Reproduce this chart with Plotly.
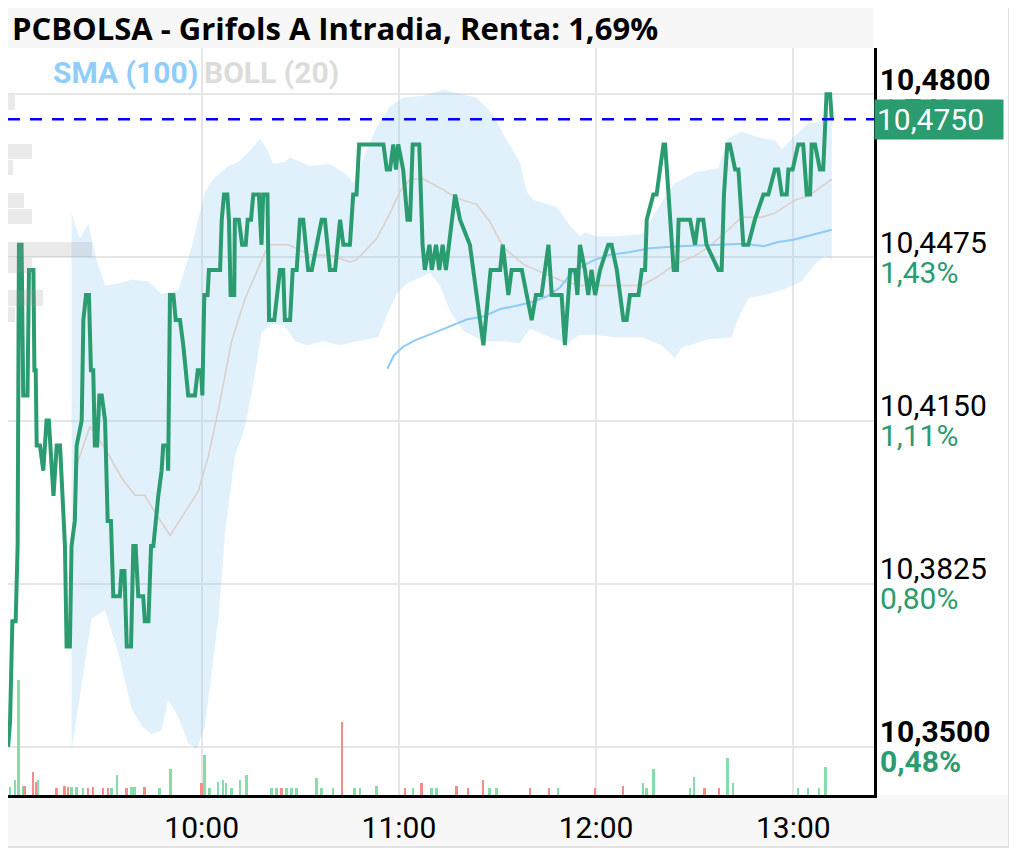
import math
import pandas as pd
import plotly.graph_objects as go

DAY = "2023-06-09"
PREV_CLOSE = 10.30

# ---------------- price (minutes after 09:00, price) ----------------
price_minutes = [
    1.1, 1.7, 2.4, 3.4, 4.0, 4.4, 5.2, 5.7, 7.0, 7.45,
    8.8, 9.1, 9.5, 9.8, 10.8, 11.8, 12.8, 13.5, 14.9, 15.9,
    16.9, 18.4, 18.9, 19.9, 20.4, 21.4, 21.95, 23.5, 24.0, 24.8,
    25.7, 26.3, 27.0, 27.5, 28.2, 28.85, 29.6, 30.6, 31.4, 32.4,
    33.1, 35.1, 35.6, 36.5, 37.2, 38.5, 39.2, 39.9, 40.7, 42.2,
    42.7, 43.8, 44.6, 45.3, 46.8, 47.8, 48.3, 49.6, 49.8, 50.35,
    51.4, 52.1, 53.4, 54.4, 55.9, 57.95, 58.8, 59.8, 60.2, 60.8,
    61.8, 62.2, 65.6, 66.1, 66.8, 67.8, 68.3, 68.8, 69.9, 70.1,
    71.3, 72.3, 73.4, 74.0, 75.0, 75.7, 77.4, 78.2, 78.7, 80.0,
    80.5, 82.1, 83.8, 84.8, 85.3, 86.9, 87.7, 88.9, 89.9, 90.9,
    92.4, 93.5, 96.5, 97.5, 99.0, 100.6, 102.1, 103.1, 105.1, 106.1,
    107.1, 107.9, 115.3, 116.3, 117.3, 118.3, 119.1, 119.8, 121.3, 122.6,
    123.4, 124.2, 126.2, 127.2, 127.9, 129.3, 130.0, 131.3, 132.3, 133.3,
    134.3, 137.1, 138.6, 141.6, 145.7, 147.2, 147.9, 150.8, 151.6, 153.3,
    154.3, 157.4, 160.4, 161.7, 163.4, 165.5, 166.5, 169.5, 170.5, 172.1,
    173.6, 174.3, 175.1, 176.6, 177.6, 178.6, 179.7, 181.2, 183.7, 184.7,
    186.3, 188.3, 189.3, 190.3, 192.9, 193.9, 194.9, 195.4, 197.4, 198.4,
    200.5, 201.0, 203.6, 204.6, 205.1, 208.6, 210.1, 211.1, 212.6, 213.6,
    217.2, 218.2, 218.9, 219.9, 220.7, 222.3, 223.3, 224.3, 224.8, 226.3,
    228.3, 230.9, 232.4, 234.4, 235.4, 236.5, 238.0, 238.5, 239.8, 241.5,
    243.0, 244.1, 245.1, 245.6, 246.6, 248.1, 249.1, 250.1, 251.2, 251.7,
]
price_values = [
    10.350, 10.355, 10.375, 10.375, 10.390, 10.450, 10.450, 10.420, 10.420, 10.445,
    10.445, 10.425, 10.425, 10.410, 10.410, 10.405, 10.415, 10.415, 10.400, 10.410,
    10.410, 10.390, 10.370, 10.370, 10.390, 10.395, 10.410, 10.415, 10.435, 10.440,
    10.440, 10.425, 10.425, 10.410, 10.410, 10.420, 10.420, 10.415, 10.395, 10.395,
    10.380, 10.380, 10.385, 10.385, 10.370, 10.370, 10.390, 10.390, 10.380, 10.380,
    10.375, 10.375, 10.390, 10.390, 10.400, 10.405, 10.410, 10.410, 10.405, 10.440,
    10.440, 10.435, 10.435, 10.430, 10.420, 10.420, 10.425, 10.425, 10.420, 10.440,
    10.440, 10.445, 10.445, 10.455, 10.460, 10.460, 10.455, 10.440, 10.440, 10.455,
    10.455, 10.450, 10.450, 10.455, 10.455, 10.460, 10.460, 10.450, 10.460, 10.460,
    10.435, 10.435, 10.445, 10.445, 10.435, 10.435, 10.445, 10.445, 10.455, 10.455,
    10.445, 10.445, 10.455, 10.455, 10.445, 10.445, 10.455, 10.450, 10.450, 10.460,
    10.460, 10.470, 10.470, 10.465, 10.465, 10.470, 10.465, 10.470, 10.465, 10.455,
    10.455, 10.470, 10.470, 10.450, 10.445, 10.450, 10.445, 10.450, 10.445, 10.450,
    10.445, 10.460, 10.455, 10.450, 10.430, 10.440, 10.445, 10.445, 10.450, 10.440,
    10.445, 10.445, 10.435, 10.440, 10.440, 10.450, 10.440, 10.440, 10.430, 10.445,
    10.445, 10.440, 10.450, 10.445, 10.440, 10.445, 10.440, 10.445, 10.450, 10.450,
    10.445, 10.435, 10.435, 10.440, 10.440, 10.445, 10.445, 10.455, 10.460, 10.460,
    10.470, 10.470, 10.445, 10.445, 10.455, 10.455, 10.450, 10.455, 10.455, 10.450,
    10.445, 10.445, 10.460, 10.470, 10.470, 10.465, 10.465, 10.455, 10.450, 10.450,
    10.455, 10.460, 10.460, 10.465, 10.465, 10.460, 10.460, 10.465, 10.465, 10.470,
    10.470, 10.460, 10.460, 10.470, 10.470, 10.465, 10.465, 10.480, 10.480, 10.475,
]

# ---------------- SMA(100) ----------------
sma_minutes = [116.5, 118.5, 121.3, 125.0, 130.5, 135.5, 140.6, 145.7, 150.8, 155.5,
               160.0, 165.0, 169.0, 172.0, 175.1, 179.5, 184.2, 190.0, 196.4, 205.0,
               216.7, 225.0, 231.0, 235.0, 240.0, 246.0, 251.7]
sma_values = [10.4253, 10.4280, 10.4297, 10.4310, 10.4324, 10.4337, 10.4351, 10.4357, 10.4372, 10.4378,
              10.4385, 10.4397, 10.4415, 10.4440, 10.4455, 10.4470, 10.4480, 10.4485, 10.4493, 10.4497,
              10.4500, 10.4502, 10.4497, 10.4505, 10.4510, 10.4520, 10.4530]

# ---------------- Bollinger (20) ----------------
boll_up_minutes = [20.4, 23.0, 25.5, 28.0, 30.6, 34.6, 38.7, 43.8, 47.8, 52.9,
                   56.9, 61.0, 63.5, 68.1, 71.1, 75.2, 77.7, 79.8, 81.8, 85.3,
                   86.9, 93.0, 99.0, 104.1, 106.1, 109.2, 113.2, 117.3, 121.3, 127.4,
                   133.5, 137.6, 143.7, 148.7, 152.8, 156.8, 158.9, 160.9, 168.0, 172.1,
                   175.1, 176.6, 179.7, 185.7, 193.9, 197.9, 202.0, 204.0, 210.1, 217.2,
                   220.2, 224.3, 230.4, 234.4, 236.5, 240.5, 244.6, 250.6, 251.7]
boll_up_values = [10.4563, 10.4512, 10.4542, 10.4470, 10.4419, 10.4423, 10.4431, 10.4427, 10.4402, 10.4410,
                  10.4495, 10.4606, 10.4631, 10.4657, 10.4665, 10.4691, 10.4712, 10.4691, 10.4661, 10.4665,
                  10.4674, 10.4657, 10.4661, 10.4640, 10.4623, 10.4674, 10.4734, 10.4776, 10.4793, 10.4797,
                  10.4809, 10.4803, 10.4793, 10.4759, 10.4708, 10.4665, 10.4606, 10.4589, 10.4576, 10.4538,
                  10.4517, 10.4525, 10.4517, 10.4517, 10.4521, 10.4563, 10.4606, 10.4623, 10.4644, 10.4653,
                  10.4712, 10.4725, 10.4712, 10.4708, 10.4691, 10.4717, 10.4742, 10.4746, 10.4746]
boll_low_minutes = [20.4, 23.5, 26.5, 30.6, 34.6, 38.7, 41.7, 44.8, 47.8, 49.8,
                    52.9, 55.9, 58.5, 61.0, 65.1, 67.1, 70.1, 73.2, 75.7, 78.2,
                    81.3, 85.3, 88.4, 92.0, 97.0, 102.1, 107.1, 113.7, 116.3, 119.3,
                    122.4, 129.5, 132.5, 135.5, 139.6, 145.7, 151.8, 156.8, 159.9, 166.0,
                    171.0, 175.1, 179.7, 185.7, 193.9, 199.9, 204.0, 206.0, 214.1, 221.2,
                    223.3, 226.3, 232.4, 236.5, 242.5, 246.6, 249.6, 251.7]
boll_low_values = [10.3491, 10.3627, 10.3755, 10.3772, 10.3687, 10.3576, 10.3542, 10.3525, 10.3533, 10.3593,
                   10.3559, 10.3508, 10.3495, 10.3542, 10.3755, 10.3925, 10.4078, 10.4138, 10.4223, 10.4325,
                   10.4342, 10.4338, 10.4308, 10.4300, 10.4308, 10.4300, 10.4308, 10.4316, 10.4359, 10.4402,
                   10.4423, 10.4444, 10.4419, 10.4368, 10.4329, 10.4308, 10.4308, 10.4304, 10.4333, 10.4316,
                   10.4304, 10.4321, 10.4321, 10.4316, 10.4316, 10.4300, 10.4274, 10.4295, 10.4312, 10.4316,
                   10.4355, 10.4393, 10.4402, 10.4410, 10.4427, 10.4461, 10.4478, 10.4470]
boll_mid_minutes = [21.95, 26.0, 30.6, 35.6, 39.7, 42.7, 45.8, 50.35, 54.9, 59.0,
                    62.0, 65.1, 69.1, 73.2, 77.2, 80.3, 86.4, 92.95, 99.0, 105.1,
                    107.1, 113.2, 117.3, 120.3, 123.4, 127.4, 133.5, 137.6, 143.7, 147.7,
                    151.8, 157.9, 163.9, 170.0, 175.1, 193.9, 198.9, 204.0, 210.1, 214.1,
                    220.2, 224.3, 230.4, 234.4, 240.5, 244.6, 251.7]
boll_mid_values = [10.4061, 10.4138, 10.4095, 10.4036, 10.4001, 10.4001, 10.3967, 10.3921, 10.3967, 10.4010,
                   10.4078, 10.4172, 10.4308, 10.4393, 10.4453, 10.4500, 10.4500, 10.4480, 10.4479, 10.4466,
                   10.4470, 10.4512, 10.4563, 10.4606, 10.4631, 10.4631, 10.4610, 10.4593, 10.4580, 10.4546,
                   10.4495, 10.4461, 10.4444, 10.4427, 10.4419, 10.4419, 10.4437, 10.4461, 10.4478, 10.4495,
                   10.4530, 10.4555, 10.4555, 10.4563, 10.4589, 10.4597, 10.4631]

# ---------------- volume ----------------
vol_minutes = [1.7, 3.2, 4.4, 5.7, 6.2, 8.8, 9.6, 10.3, 15.9, 18.4,
               19.4, 20.4, 22.0, 24.0, 25.5, 27.0, 30.1, 31.6, 32.6, 34.3,
               37.2, 38.7, 39.7, 42.7, 47.3, 50.6, 60.0, 61.0, 62.5, 65.1,
               66.6, 67.4, 69.1, 71.7, 73.7, 81.3, 82.8, 84.3, 85.9, 87.4,
               88.9, 95.0, 96.5, 100.0, 102.8, 106.6, 108.2, 113.2, 121.9, 124.4,
               126.9, 130.0, 131.5, 137.6, 141.1, 145.7, 147.7, 149.8, 159.9, 165.8,
               168.5, 179.7, 188.3, 194.4, 195.4, 197.6, 208.6, 209.8, 213.1, 217.4,
               220.0, 221.7, 241.5, 244.6, 247.9, 249.9]
vol_values = [2000, 3750, 28750, 2250, 2250, 5750, 3250, 3750, 1750, 2250,
              2000, 2000, 2000, 1750, 1750, 2000, 1750, 1750, 1750, 5000,
              1750, 2000, 2000, 2000, 1750, 6500, 3000, 10000, 1750, 3250,
              3750, 3000, 1750, 3750, 5000, 1750, 1750, 1750, 1750, 1750,
              1750, 4250, 1750, 1750, 18250, 1750, 1750, 2250, 1750, 1750,
              3000, 1750, 1750, 2250, 1750, 3750, 1750, 1750, 1750, 1750,
              1750, 1750, 2250, 3000, 1750, 6500, 1750, 4500, 1750, 1750,
              9250, 3000, 1750, 1750, 1750, 7000]
vol_side = ("g g g g r r r g r r r g g g r r r r g g r g g r g g r g g g "
            "g g g g g g g r g g g g g g r g g g r g r g g r r r g g r r "
            "g r r g g g g g r r g g g g g g").split()

# ---------------- volume-at-price profile ----------------
profile_price = [10.4784, 10.4686, 10.4654, 10.4589, 10.4556, 10.4491, 10.4459, 10.4394, 10.4361]
profile_volume = [700, 2400, 500, 1600, 2400, 8400, 2400, 3500, 700]

# ---------------- axis ticks ----------------
tick_values = [10.35, 10.3825, 10.415, 10.4475, 10.48]

# ---------------------------------------------------------------------
GREEN = "#2a9c70"
GRID = "#e6e6e6"
FONT = "Roboto"


def tm(mins):
    return pd.Timestamp(f"{DAY} 09:00") + pd.to_timedelta(mins, unit="min")


def num(v, d=4):
    return f"{v:.{d}f}".replace(".", ",")


def pct(v):
    p = math.floor((v / PREV_CLOSE - 1) * 10000 + 1e-6) / 100
    return num(p, 2) + "%"


last = price_values[-1]
price_text, pct_text = [], []
for i, v in enumerate(tick_values):
    bold = i in (0, len(tick_values) - 1)
    price_text.append(f"<b>{num(v)}</b>" if bold else num(v))
    pct_text.append(f"<b>{pct(v)}</b>" if bold else pct(v))

fig = go.Figure()

# Bollinger band (main subplot)
fig.add_trace(go.Scatter(x=tm(boll_low_minutes), y=boll_low_values, mode="lines",
                         line=dict(width=0, color="rgba(0,0,0,0)")))
fig.add_trace(go.Scatter(x=tm(boll_up_minutes), y=boll_up_values, mode="lines",
                         line=dict(width=0, color="rgba(0,0,0,0)"),
                         fill="tonexty", fillcolor="rgba(135,200,245,0.26)"))
fig.add_trace(go.Scatter(x=tm(boll_mid_minutes), y=boll_mid_values, mode="lines",
                         line=dict(width=1.5, color="#dccdc8")))

# volume bars
fig.add_trace(go.Bar(x=tm(vol_minutes), y=vol_values, yaxis="y2", width=36000,
                     marker=dict(color=["#86dcaa" if s == "g" else "#f48c8c" for s in vol_side],
                                 line=dict(width=0))))

# volume profile
fig.add_trace(go.Bar(y=profile_price, x=profile_volume, orientation="h", xaxis="x2", yaxis="y",
                     width=0.003, marker=dict(color="rgba(150,150,150,0.2)", line=dict(width=0))))

# SMA and price (top layer)
fig.add_trace(go.Scatter(x=tm(sma_minutes), y=sma_values, mode="lines", yaxis="y3",
                         line=dict(width=2, color="#8ecbf5")))
fig.add_trace(go.Scatter(x=tm(price_minutes), y=price_values, mode="lines", yaxis="y3",
                         line=dict(width=4, color=GREEN)))

yr = [10.3404, 10.4892]
TS = 30
tickfont = dict(family=FONT, size=TS, color="black")

# the page body adds an 8px offset, so the figure is 8px smaller on each leading side
fig.update_layout(
    width=1009, height=843,
    margin=dict(l=0, r=143, t=40, b=56),
    paper_bgcolor="white", plot_bgcolor="white",
    showlegend=False, hovermode=False, bargap=0,
    xaxis=dict(type="date", range=[tm(1.07), tm(264.55)], dtick=3600000,
               tick0=tm(60), tickformat="%H:%M", showgrid=True, gridcolor=GRID, gridwidth=2,
               showline=True, linecolor="black", linewidth=2.5, ticks="", zeroline=False,
               ticklabelstandoff=4, tickfont=tickfont, fixedrange=True),
    xaxis2=dict(type="linear", overlaying="x", range=[0, 86600], visible=False),
    yaxis=dict(side="right", range=yr, tickmode="array", tickvals=tick_values, ticktext=price_text,
               showgrid=True, gridcolor=GRID, gridwidth=2, zeroline=False,
               showline=True, linecolor="black", linewidth=2.5, ticks="",
               ticklabelshift=-15, ticklabelstandoff=-3, tickfont=tickfont),
    yaxis2=dict(overlaying="y", range=[0, 186750], visible=False),
    yaxis3=dict(overlaying="y", side="right", range=yr, tickmode="array", tickvals=tick_values,
                ticktext=pct_text, showgrid=False, zeroline=False, showline=False, ticks="",
                ticklabelshift=15, ticklabelstandoff=5,
                tickfont=dict(family=FONT, size=TS, color=GREEN)),
)

# chrome: title bar, bottom axis bar, outer border
fig.add_shape(type="rect", xref="paper", yref="paper", x0=0, x1=1, y0=1, y1=1.06,
              fillcolor="#f7f7f7", line=dict(width=0), layer="below")
fig.add_shape(type="rect", xref="paper", yref="paper", x0=0, x1=1.15473, y0=0, y1=-0.06827,
              fillcolor="#f7f7f7", line=dict(width=0), layer="below")
fig.add_shape(type="rect", xref="paper", yref="paper", x0=-0.02, x1=1.15589, y0=-0.0696, y1=1.08,
              fillcolor="rgba(0,0,0,0)", line=dict(width=2, color="#e2e2e2"), layer="below")

# last price dashed line
fig.add_shape(type="line", xref="paper", yref="y", x0=0, x1=1, y0=last, y1=last,
              line=dict(color="#0000ff", width=2.5, dash="12px,10px"), layer="above")

renta = pct(last)
fig.add_annotation(text=f"<b>PCBOLSA - Grifols A Intradia, Renta: {renta}</b>",
                   xref="paper", yref="paper", x=0, y=1, xanchor="left", yanchor="middle",
                   xshift=2, yshift=20, showarrow=False,
                   font=dict(family="Open Sans", size=31, color="black"))
fig.add_annotation(text="<b>SMA (100)</b>", xref="paper", yref="paper", x=0, y=1,
                   xanchor="left", yanchor="middle", xshift=43, yshift=-24, showarrow=False,
                   font=dict(family=FONT, size=TS, color="#90cdf8"))
fig.add_annotation(text="<b>BOLL (20)</b>", xref="paper", yref="paper", x=0, y=1,
                   xanchor="left", yanchor="middle", xshift=194, yshift=-24, showarrow=False,
                   font=dict(family=FONT, size=TS, color="#dcdcdc"))
fig.add_annotation(text=num(last), xref="paper", yref="y", x=1, y=last,
                   xanchor="left", yanchor="middle", showarrow=False, align="left",
                   width=124, borderpad=2, bgcolor=GREEN,
                   font=dict(family=FONT, size=TS, color="white"))

fig.write_html("out.html", config={"displayModeBar": False})
